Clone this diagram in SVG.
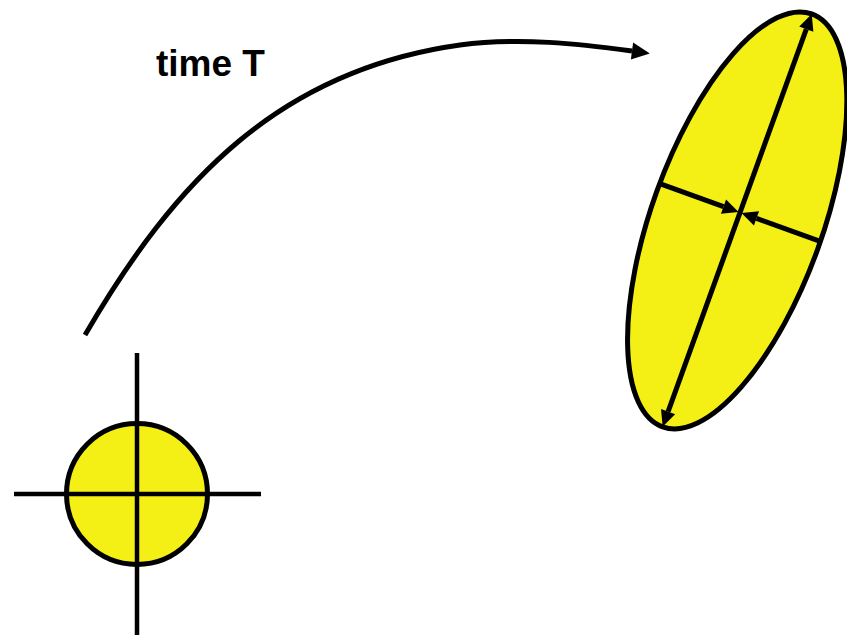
<svg xmlns="http://www.w3.org/2000/svg" width="847" height="635" viewBox="0 0 847 635">
  <style>
    .blob { fill: #F4EF14; stroke: #000; stroke-width: 5; }
    .cross { fill: none; stroke: #000; stroke-width: 4.5; }
    .axis { fill: none; stroke: #000; stroke-width: 5; stroke-linecap: butt; }
    .flow { fill: none; stroke: #000; stroke-width: 5; }
    .label { font-family: "Liberation Sans", Arial, sans-serif; font-weight: bold; font-size: 37px; fill: #000; }
  </style>
  <defs>
    <marker id="bigHead" markerUnits="userSpaceOnUse" markerWidth="19" markerHeight="18" refX="0" refY="8.5" orient="auto" overflow="visible">
      <path d="M0,0 L18,8.5 L0,17 Z" fill="#000"/>
    </marker>
    <marker id="axisHead" markerUnits="userSpaceOnUse" markerWidth="17" markerHeight="16" refX="0" refY="7.5" orient="auto-start-reverse" overflow="visible">
      <path d="M0,0 L16,7.5 L0,15 Z" fill="#000"/>
    </marker>
  </defs>

  <rect x="0" y="0" width="847" height="635" fill="#fff"/>

  <g id="start-particle">
    <circle class="blob" cx="137" cy="494" r="70.5"/>
    <line class="cross" x1="137" y1="353" x2="137" y2="635"/>
    <line class="cross" x1="14" y1="494" x2="261" y2="494"/>
  </g>

  <g id="end-ellipse">
    <ellipse class="blob" cx="737.2" cy="220.4" rx="85.5" ry="219.5" transform="rotate(19.85 737.2 220.4)"/>
    <line class="axis" x1="668.1" y1="411.6" x2="806.3" y2="29.1" marker-start="url(#axisHead)" marker-end="url(#axisHead)"/>
    <line class="axis" x1="659.1" y1="183.3" x2="723.5" y2="206.6" marker-end="url(#axisHead)"/>
    <line class="axis" x1="820.9" y1="241.7" x2="756.5" y2="218.4" marker-end="url(#axisHead)"/>
  </g>

  <g id="label-time">
    <text class="label" x="156" y="76">time T</text>
  </g>

  <g id="connectors">
    <path class="flow" d="M85,335 C175,180 280,70 460,45 C520,37 580,44 632,51" marker-end="url(#bigHead)"/>
  </g>
</svg>
